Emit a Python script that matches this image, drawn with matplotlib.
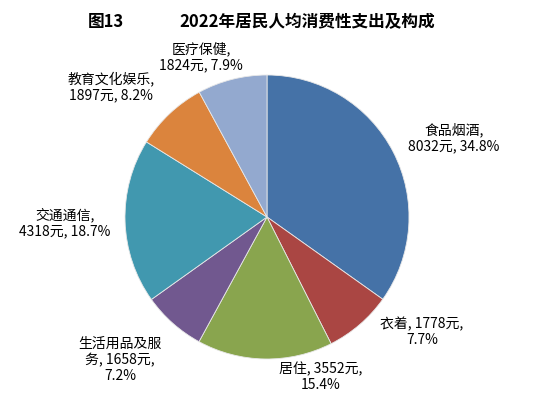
import matplotlib.pyplot as plt

plt.rcParams['font.family'] = ['Noto Sans CJK SC', 'DejaVu Sans']

# 2022年居民人均消费性支出及构成
categories = ['食品烟酒', '衣着', '居住', '生活用品及服务', '交通通信', '教育文化娱乐', '医疗保健']
values = [8032, 1778, 3552, 1658, 4318, 1897, 1824]
shares = [34.8, 7.7, 15.4, 7.2, 18.7, 8.2, 7.9]
colors = ['#4572a7', '#aa4643', '#89a54e', '#71588f', '#4198af', '#db843d', '#93a9cf']

# label text and centre positions in pixels
label_text = [
    '食品烟酒,\n8032元, 34.8%',
    '衣着, 1778元,\n7.7%',
    '居住, 3552元,\n15.4%',
    '生活用品及服\n务, 1658元,\n7.2%',
    '交通通信,\n4318元, 18.7%',
    '教育文化娱乐,\n1897元, 8.2%',
    '医疗保健,\n1824元, 7.9%',
]
label_pos = [(454, 138), (422, 332), (321, 377), (120, 360), (65, 223), (111, 87), (201, 57)]

W, H = 534, 398
fig = plt.figure(figsize=(W / 100, H / 100), dpi=100)
fig.patch.set_facecolor('white')

ax = fig.add_axes([125 / W, 39 / H, 284 / W, 284 / H])
ax.pie(values, colors=colors, startangle=90, counterclock=False,
       wedgeprops={'edgecolor': '#e8e8e8', 'linewidth': 0.6})
ax.set_xlim(-1, 1)
ax.set_ylim(-1, 1)
ax.set_aspect('equal')

fig.text(88 / W, 1 - 22 / H, '图13', fontsize=12, fontweight='bold',
         ha='left', va='center')
fig.text(435 / W, 1 - 22 / H, '2022年居民人均消费性支出及构成', fontsize=12,
         fontweight='bold', ha='right', va='center')

for txt, (px, py) in zip(label_text, label_pos):
    fig.text(px / W, 1 - py / H, txt, fontsize=10, ha='center', va='center',
             linespacing=1.2)

fig.savefig('out.png', dpi=100)
